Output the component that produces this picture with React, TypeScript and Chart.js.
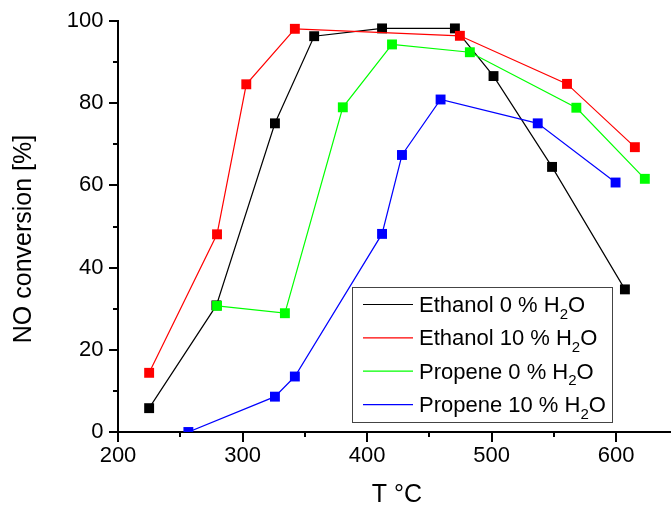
import React, { useEffect, useRef } from 'react';
import { Chart, registerables } from 'chart.js';

Chart.register(...registerables);

// Temperatures (°C) and NO conversion (%) per series
const ethanol0T = [225, 279, 326, 357.5, 412, 470.5, 501.5, 548.5, 607];
const ethanol0Y = [5.8, 30.8, 75.1, 96.3, 98.2, 98.2, 86.6, 64.5, 34.7];
const ethanol10T = [225, 279.5, 303, 342, 474.5, 560.5, 615];
const ethanol10Y = [14.4, 48.1, 84.6, 98.1, 96.4, 84.7, 69.3];
const propene0T = [279.5, 334, 380.5, 420, 482.5, 568, 623];
const propene0Y = [30.7, 28.9, 79.0, 94.3, 92.4, 78.9, 61.6];
const propene10T = [256.5, 326, 342, 412, 428, 459, 537, 599.5];
const propene10Y = [0, 8.6, 13.5, 48.2, 67.4, 80.9, 75.1, 60.7];

const seriesLabels = ['Ethanol 0 % H_2O', 'Ethanol 10 % H_2O', 'Propene 0 % H_2O', 'Propene 10 % H_2O'];
const seriesColors = ['#000000', '#ff0000', '#00ff00', '#0000ff'];

const xMajorTicks = [200, 300, 400, 500, 600];
const xMinorTicks = [250, 350, 450, 550];
const yMajorTicks = [0, 20, 40, 60, 80, 100];
const yMinorTicks = [10, 30, 50, 70, 90];

const xTitle = 'T °C';
const yTitle = 'NO conversion [%]';

const FONT = '"Liberation Sans", Arial, Helvetica, sans-serif';

function drawRich(ctx: CanvasRenderingContext2D, text: string, x: number, y: number, size: number, subSize: number, subDrop: number) {
  const parts = text.split(/_(\d)/);
  let cx = x;
  parts.forEach((p, i) => {
    if (i % 2 === 1) {
      ctx.font = `${subSize}px ${FONT}`;
      ctx.fillText(p, cx, y + subDrop);
    } else {
      ctx.font = `${size}px ${FONT}`;
      ctx.fillText(p, cx, y);
    }
    cx += ctx.measureText(p).width;
  });
}

const decorPlugin = {
  id: 'decor',
  afterDraw(chart: any) {
    const { ctx, chartArea, scales } = chart;
    const xs = scales.x;
    const ys = scales.y;
    ctx.save();
    // tick marks
    ctx.strokeStyle = '#000';
    ctx.lineWidth = 2;
    ctx.beginPath();
    const yAll = [...yMajorTicks.map((v) => [v, 9]), ...yMinorTicks.map((v) => [v, 5])];
    yAll.forEach(([v, len]) => {
      const py = Math.round(ys.getPixelForValue(v));
      ctx.moveTo(chartArea.left - len, py);
      ctx.lineTo(chartArea.left, py);
    });
    const xAll = [...xMajorTicks.map((v) => [v, 10]), ...xMinorTicks.map((v) => [v, 5])];
    xAll.forEach(([v, len]) => {
      const px = Math.round(xs.getPixelForValue(v));
      ctx.moveTo(px, chartArea.bottom);
      ctx.lineTo(px, chartArea.bottom + len);
    });
    ctx.stroke();

    // axis titles
    ctx.fillStyle = '#000';
    ctx.font = `25px ${FONT}`;
    ctx.textAlign = 'center';
    ctx.textBaseline = 'middle';
    ctx.fillText(xTitle, 397, 495);
    ctx.save();
    ctx.translate(24.5, 239);
    ctx.rotate(-Math.PI / 2);
    ctx.fillText(yTitle, 0, 0);
    ctx.restore();

    // legend
    const bx = 352.5, by = 287.5, bw = 260, bh = 135;
    ctx.fillStyle = '#ffffff';
    ctx.fillRect(bx, by, bw, bh);
    ctx.strokeStyle = '#444444';
    ctx.lineWidth = 1;
    ctx.strokeRect(bx, by, bw, bh);
    ctx.textAlign = 'left';
    ctx.textBaseline = 'alphabetic';
    seriesLabels.forEach((lab, i) => {
      const ry = 304.5 + i * 33.35;
      ctx.strokeStyle = seriesColors[i];
      ctx.lineWidth = 1.2;
      ctx.beginPath();
      ctx.moveTo(363, ry);
      ctx.lineTo(413, ry);
      ctx.stroke();
      ctx.fillStyle = '#000';
      drawRich(ctx, lab, 419, ry + 7.5, 22, 15, 6.6);
    });
    ctx.restore();
  },
};

export default function App() {
  const canvasRef = useRef<HTMLCanvasElement | null>(null);

  useEffect(() => {
    document.body.style.margin = '0';
    document.body.style.overflow = 'hidden';
    const canvas = canvasRef.current;
    if (!canvas) return;
    const xsList = [ethanol0T, ethanol10T, propene0T, propene10T];
    const ysList = [ethanol0Y, ethanol10Y, propene0Y, propene10Y];
    const datasets = xsList.map((xs, i) => ({
      label: seriesLabels[i].replace('_2', '₂'),
      data: xs.map((x, j) => ({ x, y: ysList[i][j] })),
      showLine: true,
      borderColor: seriesColors[i],
      backgroundColor: seriesColors[i],
      borderWidth: 1.2,
      tension: 0,
      pointStyle: 'rect',
      pointRadius: 7,
      pointHoverRadius: 7,
      pointBorderWidth: 0,
      pointBackgroundColor: seriesColors[i],
      order: 3 - i,
    }));

    const fitX = (s: any) => {
      s.height = 73;
      s.paddingLeft = 0;
      s.paddingRight = 0;
      s.paddingTop = 0;
      s.paddingBottom = 0;
    };
    const fitY = (s: any) => {
      s.width = 118;
      s.paddingLeft = 0;
      s.paddingRight = 0;
      s.paddingTop = 0;
      s.paddingBottom = 0;
    };

    const chart = new Chart(canvas, {
      type: 'scatter',
      data: { datasets: datasets as any },
      options: {
        responsive: false,
        animation: false,
        events: [],
        layout: { autoPadding: false, padding: { top: 21, left: 0, right: 0, bottom: 0 } },
        plugins: {
          legend: { display: false },
          tooltip: { enabled: false },
        },
        scales: {
          x: {
            type: 'linear',
            position: 'bottom',
            min: 200,
            max: 644,
            grid: { display: false, drawTicks: false },
            border: { display: true, color: '#000', width: 2 },
            ticks: { font: { size: 22, family: FONT }, color: '#000', padding: 11 },
            afterBuildTicks: (s: any) => {
              s.ticks = xMajorTicks.map((v) => ({ value: v }));
            },
            afterFit: fitX,
          },
          y: {
            type: 'linear',
            position: 'left',
            min: 0,
            max: 100,
            grid: { display: false, drawTicks: false },
            border: { display: true, color: '#000', width: 2 },
            ticks: { font: { size: 22, family: FONT }, color: '#000', padding: 14.5 },
            afterBuildTicks: (s: any) => {
              s.ticks = yMajorTicks.map((v) => ({ value: v }));
            },
            afterFit: fitY,
          },
        },
      } as any,
      plugins: [decorPlugin],
    });
    return () => chart.destroy();
  }, []);

  return (
    <div style={{ width: 671, height: 505, position: 'relative' }}>
      <canvas ref={canvasRef} width={671} height={505} style={{ display: 'block' }} />
    </div>
  );
}
